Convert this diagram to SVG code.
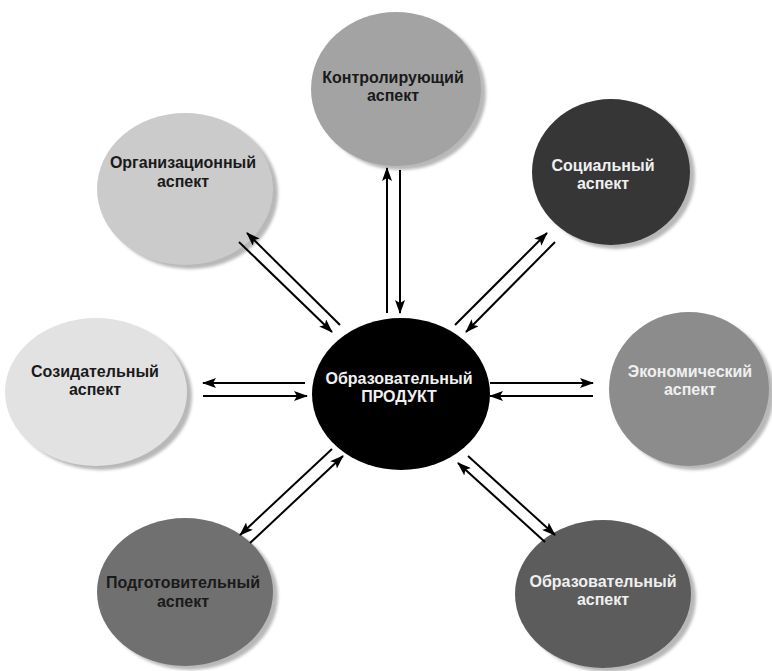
<svg xmlns="http://www.w3.org/2000/svg" width="772" height="671" viewBox="0 0 772 671">
<defs>
<marker id="ah" markerWidth="14" markerHeight="10" refX="13" refY="5" orient="auto" markerUnits="userSpaceOnUse">
<path d="M0,0 L14,5 L0,10 L3,5 z" fill="#000"/>
</marker>
<filter id="blur" x="-20%" y="-20%" width="140%" height="140%"><feGaussianBlur stdDeviation="1.5"/></filter>
</defs>
<style>
.sh{fill:#b8b8b8;filter:url(#blur)}
.t{font-family:"Liberation Sans",Arial,sans-serif;font-weight:bold;font-size:16px;text-anchor:middle}
.dk{fill:#1a1a1a}
.lt{fill:#f0f0f0}
.c{stroke:#000;stroke-width:2;fill:none;marker-end:url(#ah)}
</style>
<rect width="772" height="671" fill="#fff"/>
<g id="n-control">
<ellipse class="sh" cx="401" cy="93" rx="85" ry="77"/>
<ellipse cx="396" cy="89" rx="85" ry="77" fill="#a3a3a3"/>
<text class="t dk" x="393" y="83">Контролирующий</text>
<text class="t dk" x="393" y="101">аспект</text>
</g>
<g id="n-org">
<ellipse class="sh" cx="190" cy="193" rx="88" ry="76"/>
<ellipse cx="185" cy="189" rx="88" ry="76" fill="#cbcbcb"/>
<text class="t dk" x="183" y="168">Организационный</text>
<text class="t dk" x="183" y="187">аспект</text>
</g>
<g id="n-social">
<ellipse class="sh" cx="616" cy="176" rx="79" ry="73"/>
<ellipse cx="611" cy="172" rx="79" ry="73" fill="#363636"/>
<text class="t lt" x="603" y="171">Социальный</text>
<text class="t lt" x="603" y="189">аспект</text>
</g>
<g id="n-create">
<ellipse class="sh" cx="101" cy="396" rx="91" ry="74"/>
<ellipse cx="96" cy="392" rx="91" ry="74" fill="#e2e2e2"/>
<text class="t dk" x="95" y="377">Созидательный</text>
<text class="t dk" x="95" y="395">аспект</text>
</g>
<g id="n-center">
<ellipse cx="401" cy="394" rx="89" ry="76" fill="#000"/>
<text class="t lt" x="399" y="384">Образовательный</text>
<text class="t lt" x="399" y="402">ПРОДУКТ</text>
</g>
<g id="n-econ">
<ellipse class="sh" cx="694" cy="393" rx="80" ry="77"/>
<ellipse cx="689" cy="389" rx="80" ry="77" fill="#8c8c8c"/>
<text class="t lt" x="690" y="377">Экономический</text>
<text class="t lt" x="690" y="395">аспект</text>
</g>
<g id="n-prep">
<ellipse class="sh" cx="190" cy="596" rx="88" ry="74"/>
<ellipse cx="185" cy="592" rx="88" ry="74" fill="#707070"/>
<text class="t dk" x="183" y="588">Подготовительный</text>
<text class="t dk" x="183" y="607">аспект</text>
</g>
<g id="n-edu">
<ellipse class="sh" cx="608" cy="598" rx="88" ry="74"/>
<ellipse cx="603" cy="594" rx="88" ry="74" fill="#5c5c5c"/>
<text class="t lt" x="603" y="587">Образовательный</text>
<text class="t lt" x="603" y="605">аспект</text>
</g>
<g id="connectors">
<line class="c" x1="387" y1="313" x2="387" y2="168"/>
<line class="c" x1="400" y1="170" x2="400" y2="313"/>
<line class="c" x1="340" y1="325" x2="247" y2="233"/>
<line class="c" x1="239" y1="242" x2="332" y2="332"/>
<line class="c" x1="455" y1="325" x2="547" y2="233"/>
<line class="c" x1="555" y1="242" x2="466" y2="332"/>
<line class="c" x1="305" y1="383" x2="203" y2="383"/>
<line class="c" x1="203" y1="396" x2="307" y2="396"/>
<line class="c" x1="490" y1="383" x2="593" y2="383"/>
<line class="c" x1="593" y1="396" x2="490" y2="396"/>
<line class="c" x1="332" y1="449" x2="240" y2="535"/>
<line class="c" x1="250" y1="543" x2="343" y2="456"/>
<line class="c" x1="468" y1="456" x2="555" y2="535"/>
<line class="c" x1="545" y1="542" x2="458" y2="463"/>
</g>
</svg>
